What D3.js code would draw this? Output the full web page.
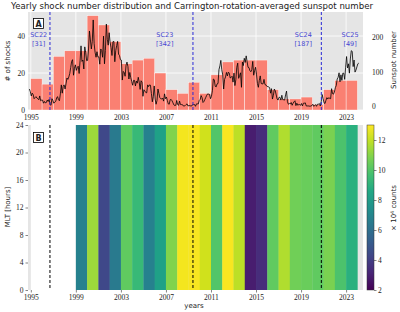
<!DOCTYPE html>
<html lang="en">
<head>
<meta charset="utf-8">
<title>Shock numbers and sunspots</title>
<script src="https://cdn.jsdelivr.net/npm/d3@7"></script>
<style>
  body { margin: 0; background: #fff; }
  svg { display: block; }
  text { font-family: "DejaVu Sans", sans-serif; fill: #222; }
  .num { font-family: "Liberation Serif", serif; font-size: 7.5px; }
</style>
</head>
<body>
<script>
// panel A: yearly shock counts
var barYears = [1995, 1996, 1997, 1998, 1999, 2000, 2001, 2002, 2003, 2004,
                2005, 2006, 2007, 2008, 2009, 2010, 2011, 2012, 2013, 2014,
                2015, 2016, 2017, 2018, 2019, 2020, 2021, 2022, 2023];
var shockCounts = [17, 14, 29, 32, 32, 51, 46, 37, 25, 27,
                   28, 20, 11, 9, 15, 9, 19, 26, 27, 27,
                   27, 11, 6, 6, 7, 3, 11, 16, 16];

// sunspot number, one value per month starting Nov 1994
var ssnStart = 1994 + 10 / 12;
var sunspots = [
  50, 42,
  30, 38, 34, 22, 25, 28, 24, 22, 19, 30, 16, 18,
  18, 9, 14, 10, 11, 18, 14, 20, 5, 3, 22, 17,
  9, 12, 14, 24, 28, 19, 16, 36, 62, 38, 58, 62,
  50, 65, 82, 78, 85, 95, 112, 130, 135, 90, 110, 120,
  104, 112, 116, 95, 132, 175, 130, 134, 108, 172, 155, 132,
  133, 166, 218, 192, 166, 188, 250, 181, 156, 142, 158, 143,
  143, 122, 166, 162, 142, 203, 123, 162, 238, 194, 177, 213,
  185, 170, 147, 187, 188, 129, 161, 176, 188, 151, 147, 135,
  134, 76, 101, 98, 87, 119, 128, 115, 79, 98, 83, 72,
  61, 75, 75, 59, 73, 67, 84, 70, 49, 74, 70, 29,
  48, 44, 40, 39, 62, 57, 62, 61, 37, 13, 28, 59,
  21, 6, 17, 50, 37, 25, 22, 21, 24, 15, 36, 22,
  27, 17, 7, 6, 19, 20, 16, 10, 4, 2, 3, 17,
  5, 3, 15, 5, 5, 5, 1, 1, 2, 5, 7, 1,
  2, 2, 1, 1, 5, 5, 5, 0, 7, 7, 7, 17,
  20, 31, 25, 11, 14, 20, 26, 32, 36, 35, 34, 22,
  29, 45, 79, 77, 58, 56, 65, 66, 106, 117, 133, 106,
  91, 50, 78, 85, 98, 88, 99, 96, 82, 84, 87, 70,
  96, 60, 77, 113, 125, 81, 89, 97, 55, 128, 118, 139,
  127, 146, 129, 113, 112, 103, 100, 106, 130, 90, 103, 113,
  93, 66, 55, 75, 88, 66, 65, 65, 78, 63, 62, 58,
  57, 56, 54, 38, 51, 21, 32, 50, 45, 33, 21, 18,
  26, 26, 18, 32, 19, 19, 18, 33, 44, 13, 6, 8,
  7, 11, 3, 9, 13, 16, 2, 9, 3, 5, 5, 3,
  8, 1, 9, 9, 10, 1, 1, 1, 1, 0, 1, 2,
  6, 0, 2, 5, 0, 6, 6, 8, 1, 14, 34, 22,
  10, 8, 17, 25, 21, 25, 23, 22, 51, 37, 35, 41,
  54, 60, 79, 84, 97, 71, 91, 75, 96, 96, 78, 113,
  144, 111, 123, 96, 137, 161, 159, 115, 134, 99, 105, 114,
  123, 125
];

// solar cycles
var cycleStarts = [1996.7, 2009.4, 2020.8];
var cycleNames = ["SC22", "SC23", "SC24", "SC25"];
var cycleShocks = [31, 342, 187, 49];
var cycleLabelYears = [1995.7, 2006.9, 2019.2, 2023.35];

// panel B: yearly counts (x10^4), same value for every MLT hour
var heatYears = [1999, 2000, 2001, 2002, 2003, 2004, 2005, 2006, 2007, 2008,
                 2009, 2010, 2011, 2012, 2013, 2014, 2015, 2016, 2017, 2018,
                 2019, 2020, 2021, 2022, 2023];
var heatCounts = [6.8, 11.4, 4.4, 6.5, 10.3, 9.4, 6.8, 8.3, 10.9, 12.8,
                  12.9, 12.2, 10.0, 12.9, 11.9, 2.9, 3.4, 10.3, 11.7, 10.6,
                  10.5, 10.3, 10.8, 9.9, 9.0];

var yearTicks = [1995, 1999, 2003, 2007, 2011, 2015, 2019, 2023];
var shockTicks = [0, 20, 40];
var ssnTicks = [0, 100, 200];
var mltTicks = [0, 4, 8, 12, 16, 20, 24];
var cbarTicks = [2, 4, 6, 8, 10, 12];

var w = 400, h = 312;
var left = 28, right = 363;
var aTop = 12, aBot = 110, bTop = 125, bBot = 290;

var xScale = d3.scaleLinear().domain([1994.75, 2024.5]).range([left, right]);
var yShock = d3.scaleLinear().domain([0, 53]).range([aBot, aTop]);
var ySsn = d3.scaleLinear().domain([-10.7, 273]).range([aBot, aTop]);
var yMlt = d3.scaleLinear().domain([0, 24]).range([bBot, bTop]);
var cbarScale = d3.scaleLinear().domain([2, 13]).range([bBot, bTop]);
var color = d3.scaleSequential(d3.interpolateViridis).domain([2, 13]);

var svg = d3.select("body").append("svg")
  .attr("width", w).attr("height", h);

// ---------- panel A ----------
var gA = svg.append("g");
gA.append("rect").attr("x", left).attr("y", aTop)
  .attr("width", right - left).attr("height", aBot - aTop).attr("fill", "#e5e5e5");

gA.selectAll(".vgrid").data(yearTicks).enter().append("line")
  .attr("x1", d => xScale(d)).attr("x2", d => xScale(d))
  .attr("y1", aTop).attr("y2", aBot)
  .attr("stroke", "#fff").attr("stroke-width", 0.8);
gA.selectAll(".hgrid").data(shockTicks).enter().append("line")
  .attr("x1", left).attr("x2", right)
  .attr("y1", d => yShock(d)).attr("y2", d => yShock(d))
  .attr("stroke", "#fff").attr("stroke-width", 0.8);

gA.selectAll(".bar").data(barYears).enter().append("rect")
  .attr("x", d => xScale(d))
  .attr("width", d => xScale(d + 1) - xScale(d))
  .attr("y", (d, i) => yShock(shockCounts[i]))
  .attr("height", (d, i) => yShock(0) - yShock(shockCounts[i]))
  .attr("fill", "#fa8072").attr("stroke", "#fff").attr("stroke-width", 0.4);

var ssnLine = d3.line()
  .x((d, i) => xScale(ssnStart + (i + 0.5) / 12))
  .y(d => ySsn(d));
gA.append("path").datum(sunspots).attr("d", ssnLine)
  .attr("fill", "none").attr("stroke", "#000").attr("stroke-width", 0.8)
  .attr("stroke-linejoin", "round");

gA.selectAll(".cyc").data(cycleStarts).enter().append("line")
  .attr("x1", d => xScale(d)).attr("x2", d => xScale(d))
  .attr("y1", aTop).attr("y2", aBot)
  .attr("stroke", "#2a2ad6").attr("stroke-width", 1)
  .attr("stroke-dasharray", "3,2");

cycleNames.forEach(function(name, i) {
  var t = gA.append("text").attr("x", xScale(cycleLabelYears[i]))
    .attr("text-anchor", "middle").style("font-size", "6.5px").style("fill", "#4646d2");
  t.append("tspan").attr("x", xScale(cycleLabelYears[i])).attr("y", 37).text(name);
  t.append("tspan").attr("x", xScale(cycleLabelYears[i])).attr("y", 45.5).text("[" + cycleShocks[i] + "]");
});

gA.append("rect").attr("x", 33.5).attr("y", 18.5).attr("width", 10).attr("height", 10)
  .attr("fill", "#fff").attr("stroke", "#000").attr("stroke-width", 0.8);
gA.append("text").attr("x", 38.5).attr("y", 26.6).attr("text-anchor", "middle")
  .style("font-size", "8px").style("font-weight", "bold").text("A");

var axAx = gA.append("g").attr("transform", "translate(0," + aBot + ")")
  .call(d3.axisBottom(xScale).tickValues(yearTicks).tickFormat(d3.format("d")).tickSize(0).tickPadding(5));
var axAl = gA.append("g").attr("transform", "translate(" + left + ",0)")
  .call(d3.axisLeft(yShock).tickValues(shockTicks).tickSize(0).tickPadding(3));
var axAr = gA.append("g").attr("transform", "translate(" + right + ",0)")
  .call(d3.axisRight(ySsn).tickValues(ssnTicks).tickSize(0).tickPadding(9));
[axAx, axAl, axAr].forEach(function(g) {
  g.select(".domain").remove();
  g.selectAll("text").attr("class", "num").attr("fill", "#222");
});

// ---------- panel B ----------
var gB = svg.append("g");
gB.append("rect").attr("x", left).attr("y", bTop)
  .attr("width", right - left).attr("height", bBot - bTop).attr("fill", "#e5e5e5");
gB.append("rect").attr("x", xScale(1995)).attr("y", bTop)
  .attr("width", xScale(heatYears[0]) - xScale(1995)).attr("height", bBot - bTop).attr("fill", "#fff");

gB.selectAll(".cell").data(heatYears).enter().append("rect")
  .attr("x", d => xScale(d))
  .attr("width", d => xScale(d + 1) - xScale(d) + 0.3)
  .attr("y", yMlt(24)).attr("height", yMlt(0) - yMlt(24))
  .attr("fill", (d, i) => color(heatCounts[i]));

gB.selectAll(".cycB").data(cycleStarts).enter().append("line")
  .attr("x1", d => xScale(d)).attr("x2", d => xScale(d))
  .attr("y1", bTop).attr("y2", bBot)
  .attr("stroke", "#000").attr("stroke-width", 1)
  .attr("stroke-dasharray", "3,2");

gB.append("rect").attr("x", 33.5).attr("y", 132.5).attr("width", 10).attr("height", 10)
  .attr("fill", "#fff").attr("stroke", "#000").attr("stroke-width", 0.8);
gB.append("text").attr("x", 38.5).attr("y", 140.6).attr("text-anchor", "middle")
  .style("font-size", "8px").style("font-weight", "bold").text("B");

var axBx = gB.append("g").attr("transform", "translate(0," + bBot + ")")
  .call(d3.axisBottom(xScale).tickValues(yearTicks).tickFormat(d3.format("d")).tickSize(2.5).tickPadding(2));
var axBl = gB.append("g").attr("transform", "translate(" + left + ",0)")
  .call(d3.axisLeft(yMlt).tickValues(mltTicks).tickSize(2.5).tickPadding(2));
[axBx, axBl].forEach(function(g) {
  g.select(".domain").remove();
  g.selectAll("line").attr("stroke", "#333").attr("stroke-width", 0.6);
  g.selectAll("text").attr("class", "num").attr("fill", "#222");
});

// colorbar
var cbX = 367, cbW = 7;
var grad = svg.append("defs").append("linearGradient").attr("id", "vir")
  .attr("x1", 0).attr("y1", 1).attr("x2", 0).attr("y2", 0);
d3.range(0, 1.0001, 0.1).forEach(function(t) {
  grad.append("stop").attr("offset", t).attr("stop-color", d3.interpolateViridis(t));
});
svg.append("rect").attr("x", cbX).attr("y", bTop).attr("width", cbW).attr("height", bBot - bTop)
  .attr("fill", "url(#vir)").attr("stroke", "#333").attr("stroke-width", 0.5);
var axC = svg.append("g").attr("transform", "translate(" + (cbX + cbW) + ",0)")
  .call(d3.axisRight(cbarScale).tickValues(cbarTicks).tickSize(2.5).tickPadding(1.5));
axC.select(".domain").remove();
axC.selectAll("line").attr("stroke", "#333").attr("stroke-width", 0.6);
axC.selectAll("text").attr("class", "num").attr("fill", "#222");

// ---------- labels ----------
svg.append("text").attr("x", 192).attr("y", 8.5).attr("text-anchor", "middle")
  .style("font-size", "8.6px").text("Yearly shock number distribution and Carrington-rotation-averaged sunspot number");

function vlabel(x, y, txt) {
  return svg.append("text").attr("transform", "translate(" + x + "," + y + ") rotate(-90)")
    .attr("text-anchor", "middle").style("font-size", "7px").text(txt);
}
vlabel(10, 61, "# of shocks");
vlabel(10, 207, "MLT [hours]");
vlabel(396, 60, "Sunspot number");
var cl = vlabel(396, 208, "");
cl.append("tspan").text("\u00d7 10");
cl.append("tspan").attr("dy", -2.5).style("font-size", "5px").text("4");
cl.append("tspan").attr("dy", 2.5).text(" counts");

svg.append("text").attr("x", 194).attr("y", 308).attr("text-anchor", "middle")
  .style("font-size", "7px").text("years");
</script>
</body>
</html>
